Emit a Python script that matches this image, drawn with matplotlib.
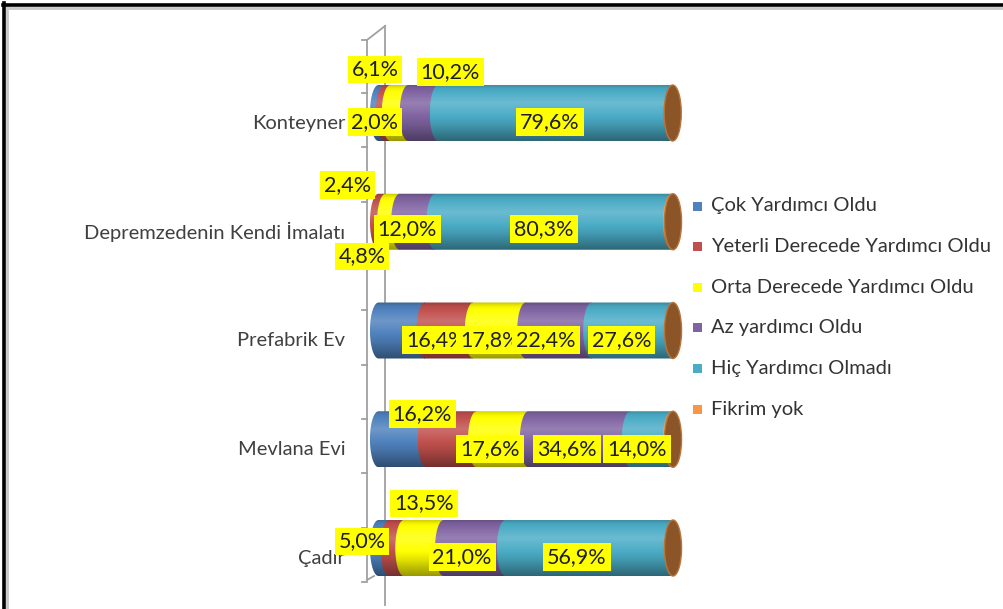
import numpy as np
import matplotlib
matplotlib.use("Agg")
import matplotlib.pyplot as plt
from matplotlib.path import Path
from matplotlib.patches import PathPatch, Ellipse, Rectangle
from matplotlib.lines import Line2D

plt.rcParams['font.family'] = ['Lato', 'DejaVu Sans']

# ---- data -------------------------------------------------------------
categories = ["Konteyner", "Depremzedenin Kendi İmalatı", "Prefabrik Ev",
              "Mevlana Evi", "Çadır"]
series_names = ["Çok Yardımcı Oldu", "Yeterli Derecede Yardımcı Oldu",
                "Orta Derecede Yardımcı Oldu", "Az yardımcı Oldu",
                "Hiç Yardımcı Olmadı", "Fikrim yok"]
cok_yardimci = [2.0, 0.0, 15.8, 16.2, 3.6]
yeterli = [2.0, 2.4, 16.4, 17.1, 5.0]
orta = [6.1, 4.8, 17.8, 17.6, 13.5]
az_yardimci = [10.2, 12.0, 22.4, 34.6, 21.0]
hic_yardimci = [79.6, 80.3, 27.6, 14.0, 56.9]
fikrim_yok = [0.0, 0.5, 0.0, 0.5, 0.0]
series_values = [cok_yardimci, yeterli, orta, az_yardimci, hic_yardimci, fikrim_yok]

colors = ["#4F81BD", "#C0504D", "#FFFF00", "#8064A2", "#4BACC6", "#F79646"]
cap_color = "#8C5528"

# data labels: (category index, series index, x in axis units, y offset)
label_layout = [
    (0, 2, -1.2, -0.40), (0, 3, 24.3, -0.38), (0, 1, -1.2, 0.08), (0, 4, 58.2, 0.08),
    (1, 1, -10.4, -0.34), (1, 3, 9.7, 0.07), (1, 4, 56.2, 0.07), (1, 2, -5.6, 0.32),
    (2, 1, 19.5, 0.09), (2, 2, 37.9, 0.09), (2, 3, 56.9, 0.09), (2, 4, 82.5, 0.09),
    (3, 0, 14.8, -0.23), (3, 2, 37.9, 0.09), (3, 3, 64.0, 0.09), (3, 4, 87.8, 0.09),
    (4, 2, 15.4, -0.41), (4, 1, -5.6, -0.06), (4, 3, 28.4, 0.08), (4, 4, 67.4, 0.08),
]

# ---- figure -----------------------------------------------------------
W, H = 1004, 609
fig = plt.figure(figsize=(W / 100, H / 100), dpi=100)
fig.patch.set_facecolor("white")

# decoration layer in pixel coordinates
deco = fig.add_axes([0, 0, 1, 1], zorder=0)
deco.set_xlim(0, W)
deco.set_ylim(H, 0)
deco.axis("off")

# outer frame with soft shadow
deco.add_line(Line2D([7, W], [7.5, 7.5], color="#c8c8c8", lw=2.0))
deco.add_line(Line2D([7.5, 7.5], [7, H], color="#c8c8c8", lw=2.0))
deco.add_line(Line2D([3, W], [4.5, 4.5], color="black", lw=2.6))
deco.add_line(Line2D([4.5, 4.5], [3, H], color="black", lw=2.6))

# 3-D wall edges and tick marks
wall = "#a0a0a0"
deco.add_line(Line2D([367, 367], [40, 580], color=wall, lw=1.3))
deco.add_line(Line2D([385, 385], [26, 605], color=wall, lw=1.3))
deco.add_line(Line2D([367, 385], [40, 26], color=wall, lw=1.3))
deco.add_line(Line2D([367, 374], [580, 576], color=wall, lw=1.3))
for ty in [40] + [93 + 54.35 * k for k in range(10)]:
    deco.add_line(Line2D([362, 367], [ty, ty], color=wall, lw=1.3))

# legend drawn as squares and labels
leg_y0, leg_dy = 206, 40.6
for i, (name, col) in enumerate(zip(series_names, colors)):
    yy = leg_y0 + i * leg_dy
    deco.add_patch(Rectangle((693, yy - 4.5), 9, 9, facecolor=col, edgecolor="none"))
    deco.text(711, yy, name, fontsize=14.5, color="#333333", va="center", ha="left")

# ---- cylinder bar layer ------------------------------------------------
x0_px, x100_px = 378.5, 673.0
px_per_unit = (x100_px - x0_px) / 100.0
xmin, xmax = -6.0, 106.0
ax_left_px = x0_px + xmin * px_per_unit
ax_right_px = x0_px + xmax * px_per_unit
y_top_px, y_bot_px = 113 - 108.75 * 0.5, 548 + 108.75 * 0.5
ax = fig.add_axes([ax_left_px / W, 1 - y_bot_px / H,
                   (ax_right_px - ax_left_px) / W, (y_bot_px - y_top_px) / H], zorder=1)
ax.patch.set_alpha(0)
for s in ax.spines.values():
    s.set_visible(False)

bar_h = 0.515
cap_a = 2.9  # half width of elliptical ends in axis units


def shade(color, n=80):
    c = np.array(matplotlib.colors.to_rgb(color))
    t = np.linspace(0, 1, n)
    p = np.interp(t, [0.0, 0.07, 0.33, 0.7, 1.0], [0.78, 0.95, 1.18, 0.9, 0.6])
    rows = [c + (1 - c) * (v - 1) if v >= 1 else c * v for v in p]
    arr = np.clip(np.array(rows), 0, 1)
    return np.repeat(arr[:, None, :], 2, axis=1)


def segment_path(x0, x1, yc, h, a):
    # body up to x1 plus a half-ellipse bulging left at x0
    verts = [(x1, yc - h / 2), (x1, yc + h / 2)]
    th = np.linspace(np.pi / 2, 3 * np.pi / 2, 48)
    verts += list(zip(x0 + a * np.cos(th), yc + (h / 2) * np.sin(th)))
    verts += [(x1, yc - h / 2)]
    codes = [Path.MOVETO] + [Path.LINETO] * (len(verts) - 2) + [Path.CLOSEPOLY]
    return Path(verts, codes)


for ci in range(len(categories)):
    left = 0.0
    for si, vals in enumerate(series_values):
        v = vals[ci]
        if v <= 0:
            continue
        x0, x1 = left, left + v
        clip = PathPatch(segment_path(x0, x1, ci, bar_h, cap_a), transform=ax.transData,
                         facecolor="none", edgecolor="none")
        im = ax.imshow(shade(colors[si]), extent=[x0 - cap_a, x1, ci + bar_h / 2, ci - bar_h / 2],
                       aspect="auto", interpolation="bilinear", zorder=2 + si * 0.01)
        im.set_clip_path(clip)
        left = x1
    ax.add_patch(Ellipse((left, ci), 2 * cap_a, bar_h, facecolor=cap_color,
                         edgecolor="#b9743a", lw=1.0, zorder=3))

for ci, si, lx, dy in label_layout:
    val = series_values[si][ci]
    txt = f"{val:.1f}%".replace(".", ",")
    ax.text(lx, ci + dy, txt, fontsize=15.5, color="#1e1e1e", ha="center", va="center",
            zorder=5, bbox=dict(boxstyle="square,pad=0.18", facecolor="#FFFF00", edgecolor="none"))

ax.set_xlim(xmin, xmax)
ax.set_ylim(len(categories) - 0.5, -0.5)
ax.set_xticks([])
ax.set_yticks(np.arange(len(categories)) + 0.08)
ax.set_yticklabels(categories, fontsize=14.5, color="#404040")
ax.tick_params(axis="y", length=0, pad=24 - (x0_px - ax_left_px) * 0.72)

fig.savefig("out.png", dpi=100, facecolor="white")
